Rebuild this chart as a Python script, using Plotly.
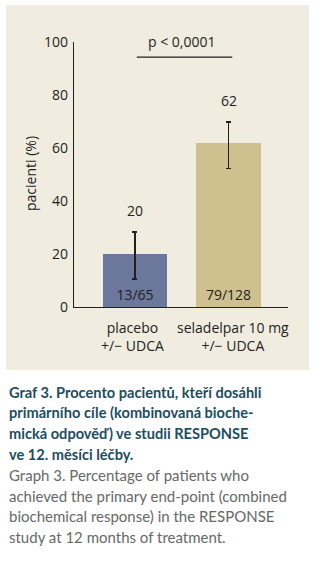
import plotly.graph_objects as go

categories = ["placebo<br>+/− UDCA", "seladelpar 10 mg<br>+/− UDCA"]
values = [20, 62]
err_plus = [8.3, 7.8]
err_minus = [9.4, 9.6]
counts = ["13/65", "79/128"]
bar_colors = ["#6b789c", "#cfc08f"]
y_ticks = [0, 20, 40, 60, 80, 100]
p_text = "p < 0,0001"
y_title = "pacienti (%)"
caption_bold = ["Graf 3. Procento pacientů, kteří dosáhli",
                "primárního cíle (kombinovaná bioche-",
                "mická odpověď) ve studii RESPONSE",
                "ve 12. měsíci léčby."]
caption_norm = ["Graph 3. Percentage of patients who",
                "achieved the primary end-point (combined",
                "biochemical response) in the RESPONSE",
                "study at 12 months of treatment."]

W, H = 316, 566
L, R, T, B = 74, 288, 42, 307
def px(x):
    return (x - L) / (R - L)
def py(y):
    return (B - y) / (B - T)

TXT = "#231f20"
FONT = "Open Sans"

xpos = [0, 1]
fig = go.Figure()
fig.add_trace(go.Bar(
    x=xpos, y=values, width=0.685,
    marker=dict(color=bar_colors, line=dict(width=0)),
    error_y=dict(type="data", symmetric=False, array=err_plus, arrayminus=err_minus,
                 color=TXT, thickness=1.2, width=2.5),
    text=counts, textposition="inside", insidetextanchor="start",
    textfont=dict(family=FONT, size=14, color=TXT),
    cliponaxis=False, hoverinfo="skip",
))

annotations = []
# value labels above
for xi, v, ep in zip(xpos, values, err_plus):
    annotations.append(dict(x=xi, y=v + ep, xref="x", yref="y", text=str(v),
                            showarrow=False, yshift=22,
                            font=dict(family=FONT, size=14, color=TXT)))
# category labels
for xi, c, sh in zip(xpos, categories, [-2, 4]):
    annotations.append(dict(x=xi, y=0, xref="x", yref="y", text=c, showarrow=False,
                            yanchor="top", yshift=-9, xshift=sh,
                            font=dict(family=FONT, size=14, color=TXT)))
# p-value
annotations.append(dict(x=0.5, y=100, xref="x", yref="y", text=p_text, showarrow=False,
                        yshift=1, font=dict(family=FONT, size=14, color=TXT)))
# y title
annotations.append(dict(x=px(30), y=py(174), xref="paper", yref="paper", text=y_title,
                        textangle=-90, showarrow=False, xanchor="center", yanchor="middle",
                        font=dict(family=FONT, size=14, color=TXT)))
# caption
line_h = 20.7
y0 = 392
for i, line in enumerate(caption_bold):
    annotations.append(dict(x=px(7), y=py(y0 + i * line_h), xref="paper", yref="paper",
                            text="<b>" + line + "</b>", showarrow=False,
                            xanchor="left", yanchor="middle",
                            font=dict(family="Lato", size=14.6, color="#1c4d62")))
for i, line in enumerate(caption_norm):
    annotations.append(dict(x=px(7), y=py(y0 + (i + 4) * line_h), xref="paper", yref="paper",
                            text=line, showarrow=False,
                            xanchor="left", yanchor="middle",
                            font=dict(family="Lato", size=15, color="#686868")))

shapes = [
    dict(type="rect", xref="paper", yref="paper", x0=px(6), x1=px(309), y0=py(370), y1=py(5),
         fillcolor="#f1ece0", line=dict(width=0), layer="below"),
    dict(type="line", xref="x", yref="y", x0=0.02, x1=1.04, y0=94.3, y1=94.3,
         line=dict(color=TXT, width=1.2)),
]

fig.update_layout(
    width=W, height=H,
    margin=dict(l=L, r=W - R, t=T, b=H - B, pad=0),
    paper_bgcolor="white", plot_bgcolor="rgba(0,0,0,0)",
    showlegend=False,
    annotations=annotations, shapes=shapes,
    xaxis=dict(range=[-0.652, 1.636], showticklabels=False, showgrid=False, zeroline=False,
               showline=True, linecolor=TXT, linewidth=1.2, ticks="", fixedrange=True),
    yaxis=dict(range=[0, 100], tickvals=y_ticks, showgrid=False, zeroline=False,
               showline=True, linecolor=TXT, linewidth=1.2, ticks="outside", ticklen=2,
               tickcolor="rgba(0,0,0,0)",
               tickfont=dict(family=FONT, size=14, color=TXT)),
    bargap=0,
)
fig.write_html("out.html")
